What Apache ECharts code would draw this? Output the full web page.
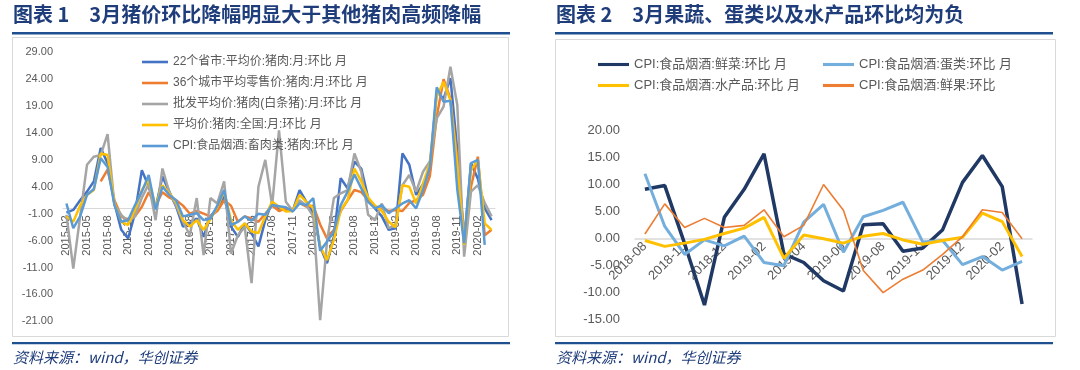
<!DOCTYPE html>
<html>
<head>
<meta charset="utf-8">
<script src="https://cdn.jsdelivr.net/npm/echarts@6/dist/echarts.min.js"></script>
<style>
html,body{margin:0;padding:0;background:#fff;}
#c{width:1080px;height:370px;}
</style>
</head>
<body>
<div id="c"></div>
<script>
// ---------- Chart 1 data ----------
const monthsL = ['2015-02','2015-03','2015-04','2015-05','2015-06','2015-07','2015-08','2015-09','2015-10','2015-11','2015-12',
'2016-01','2016-02','2016-03','2016-04','2016-05','2016-06','2016-07','2016-08','2016-09','2016-10','2016-11','2016-12',
'2017-01','2017-02','2017-03','2017-04','2017-05','2017-06','2017-07','2017-08','2017-09','2017-10','2017-11','2017-12',
'2018-01','2018-02','2018-03','2018-04','2018-05','2018-06','2018-07','2018-08','2018-09','2018-10','2018-11','2018-12',
'2019-01','2019-02','2019-03','2019-04','2019-05','2019-06','2019-07','2019-08','2019-09','2019-10','2019-11','2019-12',
'2020-01','2020-02','2020-03','2020-04'];
const namesL = ['22个省市:平均价:猪肉:月:环比 月','36个城市平均零售价:猪肉:月:环比 月','批发平均价:猪肉(白条猪):月:环比 月','平均价:猪肉:全国:月:环比 月','CPI:食品烟酒:畜肉类:猪肉:环比 月'];
const prov22 = [-0.8,-0.3,1.5,3.1,5.0,11.2,8.4,0.9,-4.0,-5.6,-0.9,7.1,4.0,0,5.9,3.1,0.3,-3.4,-2.8,-1.9,-5.3,-1.5,0,2.2,-3.4,-5.3,-2.8,-4.6,-7.1,-2.2,1.2,0,-0.3,-0.5,3.4,1.2,-0.9,-7.1,-10.2,-5.3,5.6,3.7,8.7,7.4,1.9,0,-1.5,-4.0,-3.7,10.2,8.1,2.5,4.5,7.0,21.7,20.4,24.2,10.8,-6.2,8.4,5.5,0,-2.2];
const city36 = [null,null,null,null,null,5.0,7.2,1.5,-1.5,-2.2,-1.5,0.3,3.0,0.5,3.0,2.0,1.5,0.5,-1.0,-0.5,-1.0,-1.5,-0.5,1.5,0.5,-2.5,-1.5,-1.9,-2.5,-1.0,0.5,-0.5,0,-0.3,1.0,0.3,0.5,-3.0,-5.6,-4.0,-0.5,1.5,3.4,3.0,1.5,0.3,0,-0.5,-0.3,-0.5,1.0,1.5,2.5,6.0,17.0,24.0,20.4,9.0,-5.0,4.0,9.6,-5.0,-4.0];
const wholesale = [-1.2,-11.2,-1.5,8.1,9.6,9.9,13.8,0.6,-1.2,-2.5,-1.5,2.0,4.5,-2.2,7.4,3.0,0.5,-2.5,-5.0,1.9,-8.7,1.9,0.9,5.0,-8.4,-5.0,-3.5,-13.9,4.0,9.0,0.5,14.5,1.2,-0.5,1.5,0.5,-1.5,-20.8,-6.2,1.9,2.8,3.4,10.2,6.8,-1.2,-2.2,0.9,-3.7,-3.1,4.3,6.2,3.1,6.8,8.7,16.7,18.9,26.3,19.2,-9.0,3.1,4.3,1.0,-1.5];
const national = [-1.5,-2.5,0.5,2.5,3.4,10.2,9.9,0.9,-2.5,-3.1,-0.3,3.4,5.3,0.3,4.3,2.8,1.2,-2.2,-3.4,-2.2,-4.0,-2.0,0.2,3.1,-2.2,-4.0,-2.8,-4.3,-4.6,-1.5,1.2,0.3,-0.6,-0.5,2.5,1.2,0,-7.1,-9.6,-5.9,-0.3,1.5,7.4,5.0,2.0,0.5,-0.5,-2.5,-3.5,4.3,4.0,0.9,4.6,8.4,20.8,23.5,20.1,8.0,-6.8,7.1,9.0,-2.8,-4.0];
const cpiPork = [0.9,-3.7,-1.5,2.5,3.6,9.3,7.7,0.6,-2.5,-2.2,0.6,3.1,6.2,-0.2,4.0,2.5,1.5,-1.5,-1.2,-0.9,-2.2,-1.9,0.5,3.4,-3.1,-2.5,-1.5,-2.3,-1.0,-1.2,0.6,0.4,0.2,-0.6,0.9,0.6,1.9,-7.9,-6.2,-4.3,0.6,3.1,6.3,3.7,1.2,0,0.6,-0.9,0,0.9,1.5,0,3.4,7.7,22.5,19.8,20.0,3.5,-6.5,8.4,9.0,-6.8,null];

// ---------- Chart 2 data ----------
const monthsR = ['2018-08','2018-09','2018-10','2018-11','2018-12','2019-01','2019-02','2019-03','2019-04','2019-05','2019-06','2019-07','2019-08','2019-09','2019-10','2019-11','2019-12','2020-01','2020-02','2020-03'];
const namesR = ['CPI:食品烟酒:鲜菜:环比 月','CPI:食品烟酒:蛋类:环比 月','CPI:食品烟酒:水产品:环比 月','CPI:食品烟酒:鲜果:环比'];
const vegetables = [9.1,9.8,-1.0,-12.4,3.9,9.1,15.7,-2.9,-4.5,-7.9,-9.8,2.5,2.7,-2.4,-1.8,1.6,10.4,15.4,9.6,-12.2];
const eggs = [12.0,2.2,-3.0,-0.3,-1.4,0.4,-4.5,-5.1,3.0,6.3,-2.6,4.0,5.2,6.7,-0.7,-0.4,-4.9,-3.4,-5.9,-4.3];
const aquatic = [-0.4,-1.5,-0.9,-0.2,0.9,1.9,3.9,-3.7,0.6,-0.1,-0.9,0.4,0.9,-0.3,-1.1,-0.4,0.2,4.7,3.1,-3.4];
const fruit = [0.8,6.4,2.0,3.7,2.0,2.4,5.3,0.3,2.4,10.0,5.2,-6.0,-10.1,-7.6,-5.9,-3.0,0.3,5.3,4.8,-0.1];

const titleL = '图表 1\u30003月猪价环比降幅明显大于其他猪肉高频降幅';
const titleR = '图表 2\u30003月果蔬、蛋类以及水产品环比均为负';
const sourceText = '资料来源：wind，华创证券';

const FONT = "'Liberation Sans','Noto Sans CJK SC',sans-serif";
const CJK = "'Noto Sans CJK SC',sans-serif";
const GRAY = '#595959';
const NAVY = '#1F3D7A';
const RULE = '#1F4F8F';

const colorsL = ['#4472C4','#ED7D31','#A5A5A5','#FFC000','#5B9BD5'];
const dataL = [prov22, city36, wholesale, national, cpiPork];
const colorsR = ['#203864','#74AEDD','#FFC000','#ED7D31'];
const widthsR = [3.5,3,3,1.6];
const dataR = [vegetables, eggs, aquatic, fruit];

const chart = echarts.init(document.getElementById('c'), null, {renderer:'canvas'});

const series = [];
dataL.forEach((d,i)=>series.push({
  name:namesL[i], type:'line', xAxisIndex:0, yAxisIndex:0, data:d,
  symbol:'none', showSymbol:false, connectNulls:false,
  lineStyle:{color:colorsL[i], width:2.5}, itemStyle:{color:colorsL[i]}
}));
dataR.forEach((d,i)=>series.push({
  name:namesR[i], type:'line', xAxisIndex:1, yAxisIndex:1, data:d,
  symbol:'none', showSymbol:false,
  lineStyle:{color:colorsR[i], width:widthsR[i]}, itemStyle:{color:colorsR[i]}
}));

const fmt = v => v.toFixed(2);
const lineIcon = 'path://M0,0L30,0L30,3L0,3Z';

// axis offsets so the category axis sits at value 0 (bottom of grid minus zero position)
const gridL = {left:63, right:585, top:52.3, bottom:48.7};
const gridR = {left:635, right:48, top:130.7, bottom:51};
const hL = 370 - gridL.top - gridL.bottom, hR = 370 - gridR.top - gridR.bottom;
const offL = -hL * (0 - (-21)) / (29 - (-21));
const offR = -hR * (0 - (-15)) / (20 - (-15));

const option = {
  animation:false,
  backgroundColor:'#fff',
  textStyle:{fontFamily:FONT},
  grid:[gridL, gridR],
  xAxis:[
    {gridIndex:0, type:'category', data:monthsL, boundaryGap:true, offset:offL,
     axisLine:{onZero:false, lineStyle:{color:'#D9D9D9', width:1}},
     axisTick:{show:false}, splitLine:{show:false},
     axisLabel:{interval:2, rotate:90, fontSize:11, color:GRAY, margin:7, fontFamily:FONT}},
    {gridIndex:1, type:'category', data:monthsR, boundaryGap:true, offset:offR,
     axisLine:{onZero:false, lineStyle:{color:'#D9D9D9', width:1.5}},
     axisTick:{show:false}, splitLine:{show:false},
     axisLabel:{interval:1, rotate:45, fontSize:13, color:GRAY, margin:6, fontFamily:FONT}}
  ],
  yAxis:[
    {gridIndex:0, type:'value', min:-21, max:29, interval:5,
     axisLine:{show:false}, axisTick:{show:false}, splitLine:{show:false},
     axisLabel:{formatter:fmt, fontSize:11, color:GRAY, margin:10, fontFamily:FONT}},
    {gridIndex:1, type:'value', min:-15, max:20, interval:5,
     axisLine:{show:false}, axisTick:{show:false}, splitLine:{show:false},
     axisLabel:{formatter:fmt, fontSize:13, color:GRAY, margin:15, fontFamily:FONT}}
  ],
  legend:[
    {data:namesL, orient:'vertical', left:137, top:51, itemWidth:26, itemHeight:14, itemGap:9,
     icon:lineIcon, textStyle:{fontSize:12, color:GRAY, fontFamily:FONT}},
    {data:[namesR[0], namesR[2]], orient:'vertical', left:593, top:53, itemWidth:31, itemHeight:14, itemGap:8,
     icon:lineIcon, textStyle:{fontSize:13, color:GRAY, fontFamily:FONT}},
    {data:[namesR[1], namesR[3]], orient:'vertical', left:818, top:53, itemWidth:31, itemHeight:14, itemGap:8,
     icon:lineIcon, textStyle:{fontSize:13, color:GRAY, fontFamily:FONT}}
  ],
  graphic:[
    {type:'text', left:13, top:4, style:{text:titleL, font:'bold 20px '+CJK, fill:NAVY}},
    {type:'text', left:556, top:4, style:{text:titleR, font:'bold 20px '+CJK, fill:NAVY}},
    {type:'rect', shape:{x:12, y:32, width:498, height:2.5}, style:{fill:RULE}},
    {type:'rect', shape:{x:555, y:32, width:498, height:2.5}, style:{fill:RULE}},
    {type:'rect', shape:{x:12.5, y:37.5, width:496, height:299}, style:{fill:null, stroke:'#D9D9D9', lineWidth:1}},
    {type:'rect', shape:{x:555.5, y:39.5, width:500, height:297}, style:{fill:null, stroke:'#D9D9D9', lineWidth:1}},
    {type:'rect', shape:{x:12, y:342, width:498, height:2.2}, style:{fill:RULE}},
    {type:'rect', shape:{x:555, y:342, width:498, height:2.2}, style:{fill:RULE}},
    {type:'text', left:13, top:350, style:{text:sourceText, font:'italic 15px '+CJK, fill:NAVY}},
    {type:'text', left:556, top:350, style:{text:sourceText, font:'italic 15px '+CJK, fill:NAVY}}
  ],
  series:series
};
chart.setOption(option);
</script>
</body>
</html>
